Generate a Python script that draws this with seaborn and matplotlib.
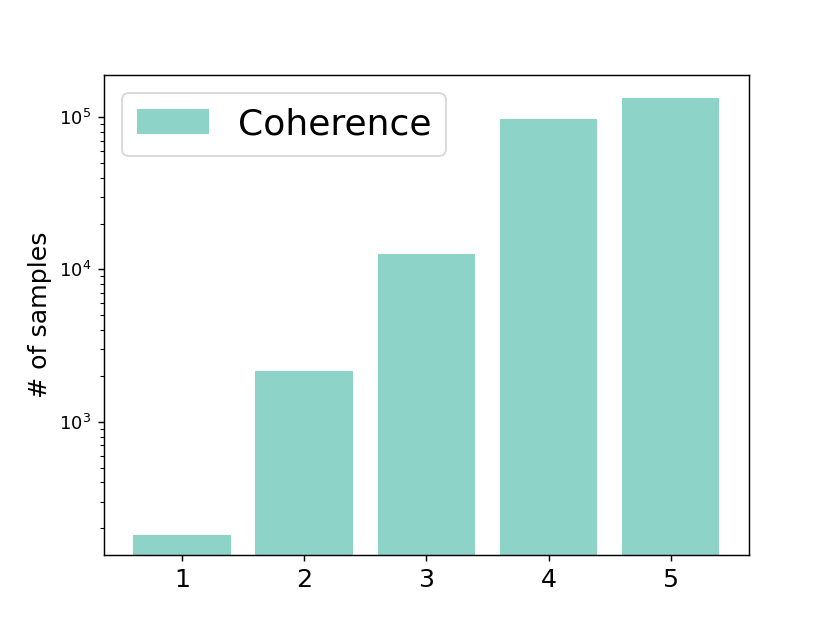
import matplotlib
matplotlib.use('Agg')
import matplotlib.pyplot as plt
import seaborn as sns
import pandas as pd

# values (log scale)
levels = ['1', '2', '3', '4', '5']
counts = [181, 2170, 12700, 97000, 133000]

df = pd.DataFrame({'level': levels, 'count': counts})

fig, ax = plt.subplots(figsize=(6.4, 4.8), dpi=130)
sns.barplot(data=df, x='level', y='count', color='#8dd3c7', saturation=1,
            width=0.8, label='Coherence', ax=ax)
ax.set_yscale('log')
ax.set_ylim(133, 189000)
ax.set_xlim(-0.64, 4.64)
ax.set_xlabel('')
ax.set_ylabel('# of samples', fontsize=14)
ax.tick_params(axis='x', labelsize=14)
ax.legend(loc='upper left', fontsize=20)
fig.savefig('out.png', dpi=130)
